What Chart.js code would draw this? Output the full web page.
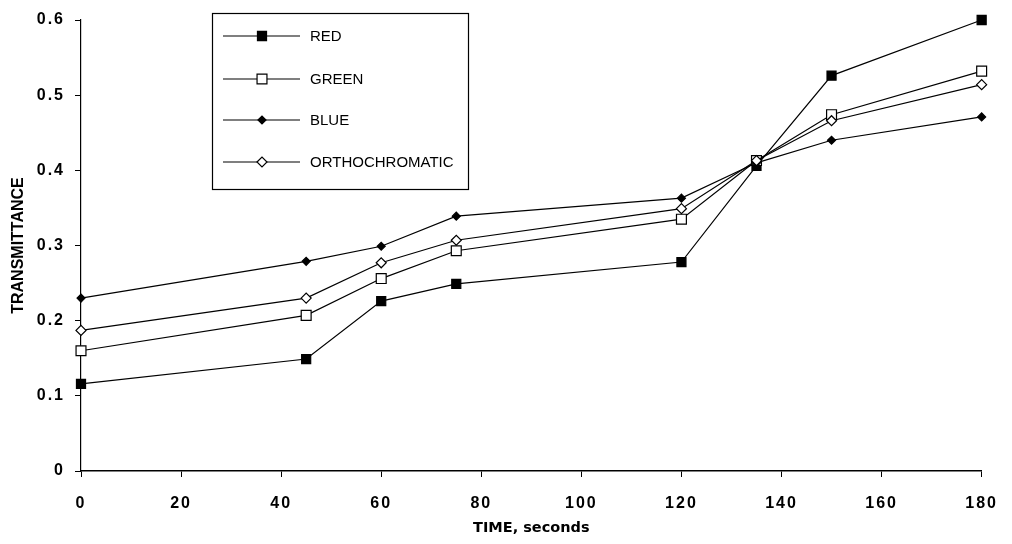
<!DOCTYPE html>
<html>
<head>
<meta charset="utf-8">
<script src="https://cdn.jsdelivr.net/npm/chart.js@4/dist/chart.umd.min.js"></script>
<style>
    body { margin: 0; background: #fff; }
    canvas { display: block; }
</style>
</head>
<body>
<canvas id="transChart" width="1012" height="544"></canvas>
<script>
// exposure times (s)
const times = [0, 45, 60, 75, 120, 135, 150, 180];

// transmittance per filter
const red = [0.116, 0.149, 0.226, 0.249, 0.278, 0.406, 0.526, 0.600];
const green = [0.160, 0.207, 0.256, 0.293, 0.335, 0.413, 0.474, 0.532];
const blue = [0.230, 0.279, 0.299, 0.339, 0.363, 0.410, 0.440, 0.471];
const ortho = [0.187, 0.230, 0.277, 0.307, 0.349, 0.413, 0.466, 0.514];

const seriesNames = ["RED", "GREEN", "BLUE", "ORTHOCHROMATIC"];

function toPoints(values) {
    return values.map((v, i) => ({ x: times[i], y: v }));
}

// marker look for each series
const markers = [
    { style: "rect", radius: 6.4, fill: "#000" },
    { style: "rect", radius: 7, fill: "#fff" },
    { style: "rectRot", radius: 4, fill: "#000" },
    { style: "rectRot", radius: 5, fill: "#fff" }
];

function makeDataset(name, values, idx) {
    const m = markers[idx];
    return {
        label: name,
        data: toPoints(values),
        borderColor: "#000",
        borderWidth: 1.2,
        pointStyle: m.style,
        pointRadius: m.radius,
        pointBackgroundColor: m.fill,
        pointBorderColor: "#000",
        pointBorderWidth: 1.2,
        tension: 0,
        clip: false,
        order: 3 - idx
    };
}

// letter spacing only for the tick labels (drawn on layer z:1)
const spacingPlugin = {
    id: "spacing",
    beforeDraw(chart) {
        chart.ctx.letterSpacing = "0px";
    },
    afterDatasetsDraw(chart) {
        chart.ctx.letterSpacing = "2px";
    },
    afterDraw(chart) {
        chart.ctx.letterSpacing = "0px";
    }
};

// boxed legend with line + marker samples
const boxLegend = {
    id: "boxLegend",
    afterDraw(chart) {
        const ctx = chart.ctx;
        ctx.save();
        ctx.strokeStyle = "#000";
        ctx.lineWidth = 1.2;
        ctx.strokeRect(212.5, 13.5, 256, 176);

        const rows = [36, 79, 120, 162];
        seriesNames.forEach((name, i) => {
            const y = rows[i];
            ctx.beginPath();
            ctx.moveTo(223, y);
            ctx.lineTo(300, y);
            ctx.lineWidth = 1.2;
            ctx.strokeStyle = "#000";
            ctx.stroke();

            const m = markers[i];
            ctx.fillStyle = m.fill;
            ctx.strokeStyle = "#000";
            Chart.helpers.drawPoint(ctx, { pointStyle: m.style, radius: m.radius, borderWidth: 1.2 }, 262, y);

            ctx.fillStyle = "#000";
            ctx.font = "15px 'Liberation Sans', Arial, sans-serif";
            ctx.textBaseline = "middle";
            ctx.textAlign = "left";
            ctx.fillText(name, 310, y + 1);
        });
        ctx.restore();
    }
};

const tickFont = { family: "'Liberation Sans', Arial, sans-serif", size: 16, weight: "bold" };

new Chart(document.getElementById("transChart"), {
    type: "line",
    data: {
        datasets: [
            makeDataset("RED", red, 0),
            makeDataset("GREEN", green, 1),
            makeDataset("BLUE", blue, 2),
            makeDataset("ORTHOCHROMATIC", ortho, 3)
        ]
    },
    options: {
        responsive: false,
        animation: false,
        layout: { padding: { top: 20, right: 22, left: 0, bottom: 0 } },
        plugins: {
            legend: { display: false },
            tooltip: { enabled: false }
        },
        scales: {
            x: {
                type: "linear",
                min: 0,
                max: 180,
                afterFit: (scale) => { scale.height = 73; },
                ticks: { stepSize: 20, color: "#000", font: tickFont, padding: 17, maxRotation: 0, z: 1 },
                grid: { drawOnChartArea: false, tickLength: 6, color: "#000", tickWidth: 1 },
                border: { color: "#000", width: 1.5 },
                title: {
                    display: true,
                    text: "TIME, seconds",
                    color: "#000",
                    font: { family: "'DejaVu Sans', sans-serif", size: 14.5, weight: "bold" },
                    padding: { top: 0, bottom: 7 }
                }
            },
            y: {
                min: 0,
                max: 0.6,
                afterFit: (scale) => { scale.width = 81; },
                ticks: { stepSize: 0.1, color: "#000", font: tickFont, padding: 10, z: 1 },
                grid: { drawOnChartArea: false, tickLength: 6, color: "#000", tickWidth: 1 },
                border: { color: "#000", width: 1.2 },
                title: {
                    display: true,
                    text: "TRANSMITTANCE",
                    color: "#000",
                    font: { family: "'Liberation Sans', Arial, sans-serif", size: 16, weight: "bold" },
                    padding: { top: 9, bottom: 0 }
                }
            }
        }
    },
    plugins: [spacingPlugin, boxLegend]
});
</script>
</body>
</html>
